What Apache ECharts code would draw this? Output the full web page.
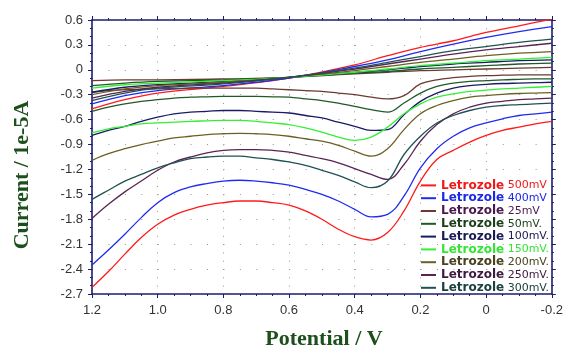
<!DOCTYPE html>
<html><head><meta charset="utf-8">
<script src="https://cdn.jsdelivr.net/npm/echarts@6/dist/echarts.min.js"></script>
<style>html,body{margin:0;padding:0;background:#fff}#c{width:566px;height:350px}</style>
</head><body><div id="c"></div>
<script>
// Legend labels (scan rates)
const scanRates = ['500mV', '400mV', '25mV', '50mV.', '100mV.', '150mV.', '200mV.', '250mV.', '300mV.'];
// Potentials (V) for the forward (lower) and reverse (upper) branches
const potLower = [1.2, 1.15, 1.1, 1.05, 1.0, 0.95, 0.9, 0.85, 0.8, 0.75, 0.7, 0.65, 0.6, 0.55, 0.5, 0.45, 0.4, 0.35, 0.3, 0.25, 0.2, 0.15, 0.1, 0.05, 0.0, -0.05, -0.1, -0.15, -0.2];
const potUpper = [1.2, 1.1, 1.0, 0.8, 0.6, 0.4, 0.3, 0.2, 0.1, 0.0, -0.1, -0.2];
// Current (1e-5 A), lower branches
const lower500 = [-2.62, -2.43, -2.22, -2.02, -1.86, -1.75, -1.68, -1.63, -1.60, -1.58, -1.58, -1.60, -1.63, -1.70, -1.80, -1.92, -2.01, -2.05, -1.96, -1.70, -1.34, -1.08, -0.97, -0.87, -0.79, -0.73, -0.69, -0.65, -0.62];
const lower400 = [-2.35, -2.17, -1.98, -1.78, -1.60, -1.48, -1.41, -1.37, -1.34, -1.33, -1.34, -1.36, -1.39, -1.44, -1.50, -1.58, -1.68, -1.77, -1.74, -1.52, -1.18, -0.95, -0.80, -0.70, -0.64, -0.59, -0.55, -0.53, -0.51];
const lower25  = [-0.27, -0.25, -0.24, -0.235, -0.23, -0.225, -0.22, -0.22, -0.22, -0.22, -0.22, -0.23, -0.24, -0.25, -0.26, -0.28, -0.30, -0.33, -0.35, -0.31, -0.17, -0.12, -0.095, -0.08, -0.07, -0.065, -0.062, -0.06, -0.06];
const lower50  = [-0.50, -0.45, -0.41, -0.38, -0.36, -0.34, -0.33, -0.325, -0.32, -0.32, -0.32, -0.325, -0.33, -0.35, -0.37, -0.40, -0.44, -0.48, -0.51, -0.40, -0.28, -0.20, -0.16, -0.14, -0.13, -0.12, -0.115, -0.11, -0.11];
const lower100 = [-0.79, -0.73, -0.68, -0.62, -0.57, -0.53, -0.51, -0.50, -0.49, -0.49, -0.50, -0.51, -0.52, -0.55, -0.58, -0.63, -0.68, -0.73, -0.72, -0.54, -0.38, -0.28, -0.22, -0.19, -0.175, -0.165, -0.16, -0.155, -0.15];
const lower150 = [-0.76, -0.71, -0.68, -0.65, -0.64, -0.63, -0.62, -0.615, -0.61, -0.61, -0.62, -0.64, -0.66, -0.70, -0.75, -0.81, -0.85, -0.81, -0.69, -0.53, -0.41, -0.33, -0.29, -0.26, -0.245, -0.23, -0.22, -0.21, -0.20];
const lower200 = [-1.09, -1.01, -0.95, -0.90, -0.86, -0.82, -0.80, -0.78, -0.77, -0.765, -0.77, -0.78, -0.80, -0.83, -0.86, -0.91, -0.98, -1.04, -0.95, -0.72, -0.53, -0.43, -0.37, -0.33, -0.31, -0.295, -0.285, -0.28, -0.275];
const lower250 = [-1.79, -1.62, -1.47, -1.34, -1.21, -1.11, -1.05, -1.00, -0.97, -0.96, -0.96, -0.97, -0.99, -1.03, -1.07, -1.12, -1.19, -1.26, -1.32, -1.14, -0.86, -0.66, -0.53, -0.45, -0.40, -0.38, -0.36, -0.35, -0.34];
const lower300 = [-1.56, -1.45, -1.34, -1.26, -1.18, -1.12, -1.07, -1.05, -1.04, -1.04, -1.06, -1.08, -1.11, -1.15, -1.21, -1.27, -1.35, -1.42, -1.34, -1.02, -0.80, -0.64, -0.55, -0.49, -0.45, -0.43, -0.42, -0.41, -0.40];
// Current (1e-5 A), upper branches
const upper500 = [-0.47, -0.36, -0.28, -0.20, -0.10, 0.06, 0.17, 0.27, 0.35, 0.45, 0.53, 0.61];
const upper400 = [-0.41, -0.31, -0.25, -0.19, -0.10, 0.04, 0.12, 0.22, 0.31, 0.39, 0.46, 0.52];
const upper25  = [-0.13, -0.12, -0.12, -0.11, -0.09, -0.05, -0.03, -0.01, 0.00, 0.01, 0.02, 0.03];
const upper50  = [-0.19, -0.16, -0.14, -0.12, -0.09, -0.04, -0.02, 0.01, 0.03, 0.05, 0.07, 0.08];
const upper100 = [-0.27, -0.21, -0.18, -0.14, -0.09, -0.03, 0.00, 0.04, 0.07, 0.09, 0.11, 0.12];
const upper150 = [-0.22, -0.18, -0.16, -0.13, -0.09, -0.03, 0.01, 0.05, 0.08, 0.11, 0.13, 0.15];
const upper200 = [-0.30, -0.23, -0.19, -0.15, -0.09, -0.01, 0.04, 0.09, 0.13, 0.17, 0.20, 0.22];
const upper250 = [-0.34, -0.26, -0.21, -0.16, -0.09, 0.01, 0.07, 0.13, 0.19, 0.24, 0.28, 0.32];
const upper300 = [-0.37, -0.28, -0.22, -0.17, -0.09, 0.02, 0.09, 0.16, 0.23, 0.28, 0.33, 0.37];

const lowers = [lower500, lower400, lower25, lower50, lower100, lower150, lower200, lower250, lower300];
const uppers = [upper500, upper400, upper25, upper50, upper100, upper150, upper200, upper250, upper300];
const lineColors = ['#ff1a1a', '#1f2cf0', '#6b3a32', '#1f5a2a', '#1a1a66', '#33f033', '#6b6022', '#5a2454', '#1f5252'];
const textColors = ['#f01818', '#1c28e8', '#4a1a4e', '#1a3f1a', '#1a1a55', '#33e633', '#4a4220', '#3e1a3e', '#1a4040'];

const frame = '#1c1c6e';
const names = scanRates.map(r => 'Letrozole ' + r);
const series = [];
names.forEach((n, i) => {
  series.push({name: n, type: 'line', symbol: 'none', smooth: 0.4, color: lineColors[i],
    lineStyle: {width: 1.3}, data: potLower.map((p, k) => [p, lowers[i][k]])});
  series.push({name: n, type: 'line', symbol: 'none', smooth: 0.35, color: lineColors[i],
    lineStyle: {width: 1.3}, data: potUpper.map((p, k) => [p, uppers[i][k]])});
});

const fmtX = v => Math.abs(v) < 1e-9 ? '0' : v.toFixed(1);
const fmtY = v => { const r = Math.round(v * 10) / 10; return Math.abs(r) < 1e-9 ? '0' : String(r); };
const axisCommon = {
  axisLine: {show: true, onZero: false, lineStyle: {color: frame, width: 1.6}},
  axisTick: {show: true, length: 4, lineStyle: {color: frame, width: 1}},
};
const labelStyle = {color: '#333', fontFamily: 'Liberation Sans', fontSize: 13};

const chart = echarts.init(document.getElementById('c'));
chart.setOption({
  animation: false,
  backgroundColor: '#fff',
  grid: {left: 92, right: 13, top: 20, bottom: 56},
  xAxis: [
    Object.assign({type: 'value', position: 'bottom', inverse: true, min: -0.2, max: 1.2, interval: 0.2,
      minorTick: {show: true, splitNumber: 4, length: 2, lineStyle: {color: frame}},
      axisLabel: Object.assign({margin: 10, formatter: fmtX}, labelStyle),
      splitLine: {show: true, lineStyle: {color: '#9a9a8a', width: 1, type: [1, 7.3]}}}, axisCommon),
    Object.assign({type: 'value', position: 'top', inverse: true, min: -0.2, max: 1.2, interval: 0.2,
      minorTick: {show: true, splitNumber: 4, length: 2, lineStyle: {color: frame}},
      axisLabel: {show: false}, splitLine: {show: false}}, axisCommon)
  ],
  yAxis: [
    Object.assign({type: 'value', position: 'left', min: -2.7, max: 0.6, interval: 0.3,
      minorTick: {show: true, splitNumber: 3, length: 2, lineStyle: {color: frame}},
      axisLabel: Object.assign({margin: 9, formatter: fmtY}, labelStyle),
      splitLine: {show: true, lineStyle: {color: '#9a9a8a', width: 1, type: [1, 15.43]}}}, axisCommon),
    Object.assign({type: 'value', position: 'right', min: -2.7, max: 0.6, interval: 0.3,
      minorTick: {show: true, splitNumber: 3, length: 2, lineStyle: {color: frame}},
      axisLabel: {show: false}, splitLine: {show: false}}, axisCommon)
  ],
  legend: {
    orient: 'vertical', left: 416, top: 174, itemWidth: 15, itemHeight: 2, itemGap: 0, icon: 'rect',
    data: names.map((n, i) => ({name: n, textStyle: {color: textColors[i]}})),
    formatter: n => '{a|Letrozole}{b| ' + n.slice(10) + '}',
    textStyle: {lineHeight: 12.8, padding: [0, 0, 0, 0],
      rich: {a: {fontFamily: 'DejaVu Sans', fontWeight: 'bold', fontSize: 12, lineHeight: 12.8},
             b: {fontFamily: 'DejaVu Sans', fontSize: 11, lineHeight: 12.8}}}
  },
  graphic: [
    {type: 'text', x: 22, y: 175, rotation: Math.PI / 2,
      style: {text: 'Current / 1e-5A', font: 'bold 22px "Liberation Serif"', fill: '#1b4f1b', align: 'center', verticalAlign: 'middle'}},
    {type: 'text', x: 324, y: 339,
      style: {text: 'Potential / V', font: 'bold 22px "Liberation Serif"', fill: '#1b4f1b', align: 'center', verticalAlign: 'middle'}}
  ],
  series: series
});
</script></body></html>
